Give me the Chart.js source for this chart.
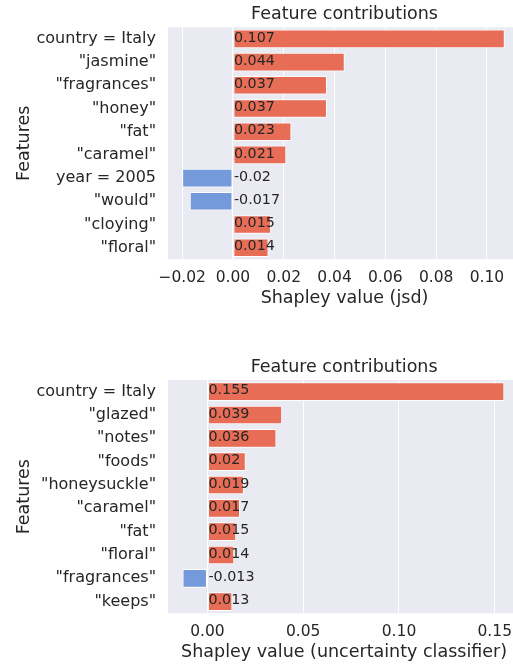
<!DOCTYPE html>
<html>
<head>
<meta charset="utf-8">
<script src="https://cdn.jsdelivr.net/npm/chart.js@4/dist/chart.umd.min.js"></script>
<style>
  html, body { margin: 0; padding: 0; background: #ffffff; overflow: hidden; }
  #wrap { position: relative; width: 513px; height: 666px; overflow: hidden; }
  canvas { position: absolute; left: 0; }
  #c1 { top: 0; }
  #c2 { top: 333px; }
</style>
</head>
<body>
<div id="wrap">
  <canvas id="c1" width="521" height="333"></canvas>
  <canvas id="c2" width="521" height="333"></canvas>
</div>
<script>
// Shapley contributions, jsd model
const jsdFeatures = ['country = Italy', '"jasmine"', '"fragrances"', '"honey"', '"fat"',
                     '"caramel"', 'year = 2005', '"would"', '"cloying"', '"floral"'];
const jsdValues = [0.107, 0.044, 0.037, 0.037, 0.023, 0.021, -0.02, -0.017, 0.015, 0.014];
const jsdTicks = [-0.02, 0.00, 0.02, 0.04, 0.06, 0.08, 0.10];

// Shapley contributions, uncertainty classifier
const uncFeatures = ['country = Italy', '"glazed"', '"notes"', '"foods"', '"honeysuckle"',
                     '"caramel"', '"fat"', '"floral"', '"fragrances"', '"keeps"'];
const uncValues = [0.155, 0.039, 0.036, 0.02, 0.019, 0.017, 0.015, 0.014, -0.013, 0.013];
const uncTicks = [0.00, 0.05, 0.10, 0.15];

const POS = '#E76D57';
const NEG = '#749ADC';
const INK = '#262626';
const FONT = 'DejaVu Sans';

const fmtTick = v => (v < 0 ? '\u2212' : '') + Math.abs(v).toFixed(2);

// panel background, title over the plot area, value text at x = 0
const panelPlugin = {
  id: 'panel',
  beforeDraw(chart) {
    const a = chart.chartArea, ctx = chart.ctx;
    ctx.save();
    ctx.fillStyle = '#EAEAF2';
    ctx.fillRect(a.left, a.top, a.right - a.left, a.bottom - a.top);
    ctx.restore();
  },
  afterDatasetsDraw(chart) {
    const ctx = chart.ctx, xs = chart.scales.x, ys = chart.scales.y;
    const vals = chart.data.datasets[0].data;
    ctx.save();
    ctx.fillStyle = INK;
    ctx.font = '14.3px "' + FONT + '"';
    ctx.textAlign = 'left';
    ctx.textBaseline = 'middle';
    const x0 = xs.getPixelForValue(0) + 1;
    vals.forEach((v, i) => {
      ctx.fillText(String(v), x0, ys.getPixelForValue(i) - 1);
    });
    ctx.restore();
  },
  afterDraw(chart) {
    const a = chart.chartArea, ctx = chart.ctx;
    ctx.save();
    ctx.fillStyle = INK;
    ctx.font = '17.5px "' + FONT + '"';
    ctx.textAlign = 'center';
    ctx.textBaseline = 'middle';
    ctx.fillText(chart.options.plugins.panel.title, (a.left + a.right) / 2, a.top - 12.7);
    ctx.restore();
  }
};

function makeChart(id, labels, values, ticks, xMin, xMax, xTitle, padTop, padBottom) {
  return new Chart(document.getElementById(id), {
    type: 'bar',
    data: {
      labels: labels,
      datasets: [{
        data: values,
        backgroundColor: values.map(v => v < 0 ? NEG : POS),
        borderColor: '#ffffff',
        borderWidth: 1,
        borderSkipped: false,
        barPercentage: 0.8,
        categoryPercentage: 1.0
      }]
    },
    options: {
      indexAxis: 'y',
      responsive: false,
      devicePixelRatio: 1,
      animation: false,
      layout: { padding: { top: padTop, bottom: padBottom, left: 0, right: 0 } },
      plugins: {
        legend: { display: false },
        tooltip: { enabled: false },
        panel: { title: 'Feature contributions' }
      },
      scales: {
        x: {
          type: 'linear',
          min: xMin,
          max: xMax,
          afterBuildTicks: s => { s.ticks = ticks.map(v => ({ value: v })); },
          afterFit: s => { s.height = 50; },
          grid: { color: '#ffffff', lineWidth: 1, drawTicks: false },
          border: { display: false },
          ticks: {
            autoSkip: false, maxRotation: 0, padding: 9,
            color: INK, font: { family: FONT, size: 15.5 },
            callback: v => fmtTick(v)
          },
          title: {
            display: true, text: xTitle, color: INK,
            font: { family: FONT, size: 17.5 },
            padding: { top: 0, bottom: 0.8 }
          }
        },
        y: {
          type: 'category',
          afterFit: s => { s.width = 168; },
          grid: { display: false, drawTicks: false },
          border: { display: false },
          ticks: { padding: 12, color: INK, font: { family: FONT, size: 16 } },
          title: {
            display: true, text: 'Features', color: INK,
            font: { family: FONT, size: 17.5 },
            padding: { top: 14, bottom: 0 }
          }
        }
      }
    },
    plugins: [panelPlugin]
  });
}

makeChart('c1', jsdFeatures, jsdValues, jsdTicks, -0.02557, 0.1134, 'Shapley value (jsd)', 27.3, 23.7);
makeChart('c2', uncFeatures, uncValues, uncTicks, -0.0206, 0.1633, 'Shapley value (uncertainty classifier)', 47, 2.7);
</script>
</body>
</html>
